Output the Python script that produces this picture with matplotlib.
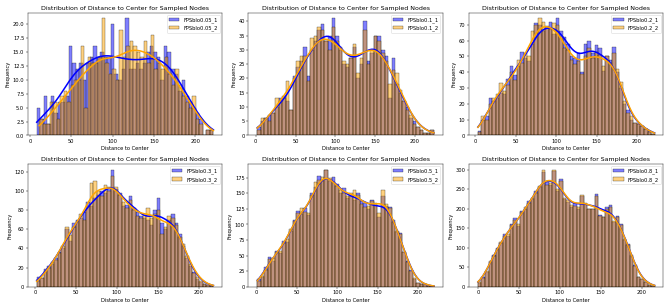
import numpy as np
import matplotlib
matplotlib.use("Agg")
import matplotlib.pyplot as plt
import seaborn as sns

# sampling ratios, one panel each
ratios = ["0.05", "0.1", "0.2", "0.3", "0.5", "0.8"]

# data range (min, max) of each run
ranges_1 = [(8, 222), (2, 224), (3, 222), (2, 218), (1, 220), (0, 216)]
ranges_2 = [(11, 222), (2, 224), (3, 222), (2, 218), (1, 220), (0, 216)]

# bin counts (50 bins) of run _1
counts_1 = [
    [5,3,7,2,7,4,6,6,7,16,13,12,13,10,13,14,16,14,15,14,14,20,11,10,12,21,12,12,13,12,13,15,16,15,14,10,16,15,12,11,8,10,7,6,5,4,3,0,1,1],
    [3,5,6,7,8,10,13,14,12,9,21,24,26,31,21,30,33,37,39,33,35,41,35,30,25,24,27,31,20,25,40,26,29,35,35,30,28,13,27,18,15,12,10,6,5,3,2,1,1,2],
    [3,10,12,24,22,24,27,26,36,44,38,44,53,49,47,58,71,70,66,69,72,64,74,66,62,58,50,49,52,40,58,60,52,57,55,41,50,48,56,40,30,20,16,10,8,7,6,4,3,1],
    [10,9,18,22,24,30,36,40,60,48,66,70,72,78,88,84,92,96,100,98,104,122,102,98,84,85,95,82,78,74,72,70,64,80,92,66,60,70,76,66,55,42,30,22,15,8,5,3,2,1],
    [12,16,31,47,42,58,54,74,72,89,107,122,117,126,115,150,160,178,170,188,170,176,165,150,158,142,145,140,150,138,135,125,140,131,112,146,130,128,107,88,86,55,42,27,13,6,5,3,2,1],
    [10,25,37,64,82,100,112,135,130,160,175,155,195,200,220,225,245,255,295,268,262,296,245,275,225,218,205,215,200,232,212,200,198,238,185,180,205,210,165,182,160,120,110,80,55,25,20,12,5,3],
]

# bin counts (50 bins) of run _2
counts_2 = [
    [3,2,2,6,6,3,7,8,6,9,10,10,16,5,14,13,13,14,21,13,11,12,10,19,14,16,17,16,15,14,17,13,18,12,13,12,14,11,9,12,9,7,6,5,7,3,2,0,1,1],
    [2,6,6,5,8,13,12,13,19,9,20,26,28,28,19,34,35,38,37,33,30,38,33,31,26,25,27,32,22,27,37,25,30,35,33,29,26,18,23,22,16,12,9,7,4,3,2,1,1,2],
    [2,12,10,20,24,26,33,28,32,40,35,48,46,52,50,66,70,74,72,68,67,71,70,63,55,54,48,45,47,39,50,55,49,53,51,44,50,46,52,42,34,22,14,12,8,7,6,4,2,1],
    [6,9,16,20,26,28,35,42,62,54,62,68,76,70,84,108,110,100,95,106,100,115,104,96,88,82,90,80,74,72,75,82,72,76,80,55,62,74,72,64,52,45,32,24,14,10,6,3,2,1],
    [10,18,27,45,46,56,58,70,76,92,105,118,126,120,118,148,168,172,176,188,174,168,162,155,150,145,150,155,148,133,128,130,138,135,118,155,133,127,104,90,84,56,40,25,14,6,5,4,2,1],
    [12,22,40,66,80,98,115,130,136,158,170,162,192,204,215,228,240,258,300,262,265,300,250,270,228,222,210,208,205,235,215,198,200,232,182,178,200,205,168,178,158,122,108,82,52,24,20,11,5,3],
]


def draw(ax, rng, counts, color, label):
    counts = np.array(counts, dtype=float)
    edges = np.linspace(rng[0], rng[1], len(counts) + 1)
    centers = (edges[:-1] + edges[1:]) / 2
    sns.histplot(x=centers, weights=counts, bins=len(counts), binrange=rng,
                 color=color, alpha=0.5, label=label, ax=ax)
    # gaussian kde, scott bandwidth on the real sample size, cut at data range
    n = counts.sum()
    mean = (centers * counts).sum() / n
    sd = np.sqrt(((centers - mean) ** 2 * counts).sum() / (n - 1))
    bw = sd * n ** (-0.2)
    xs = np.linspace(rng[0], rng[1], 200)
    dens = (counts[None, :] * np.exp(-0.5 * ((xs[:, None] - centers[None, :]) / bw) ** 2)).sum(axis=1)
    dens = dens / (n * bw * np.sqrt(2 * np.pi))
    ax.plot(xs, dens * n * (edges[1] - edges[0]), color=color, lw=3)


fig, axes = plt.subplots(2, 3, figsize=(18, 8.29), dpi=669 / 18)
for i, ax in enumerate(axes.flat):
    r = ratios[i]
    draw(ax, ranges_1[i], counts_1[i], "blue", "FPSblo" + r + "_1")
    draw(ax, ranges_2[i], counts_2[i], "orange", "FPSblo" + r + "_2")
    ax.set_title("Distribution of Distance to Center for Sampled Nodes")
    ax.set_xlabel("Distance to Center")
    ax.set_ylabel("Frequency")
    ax.legend(loc="upper right")

plt.tight_layout()
plt.savefig("out.png", dpi=669 / 18)
